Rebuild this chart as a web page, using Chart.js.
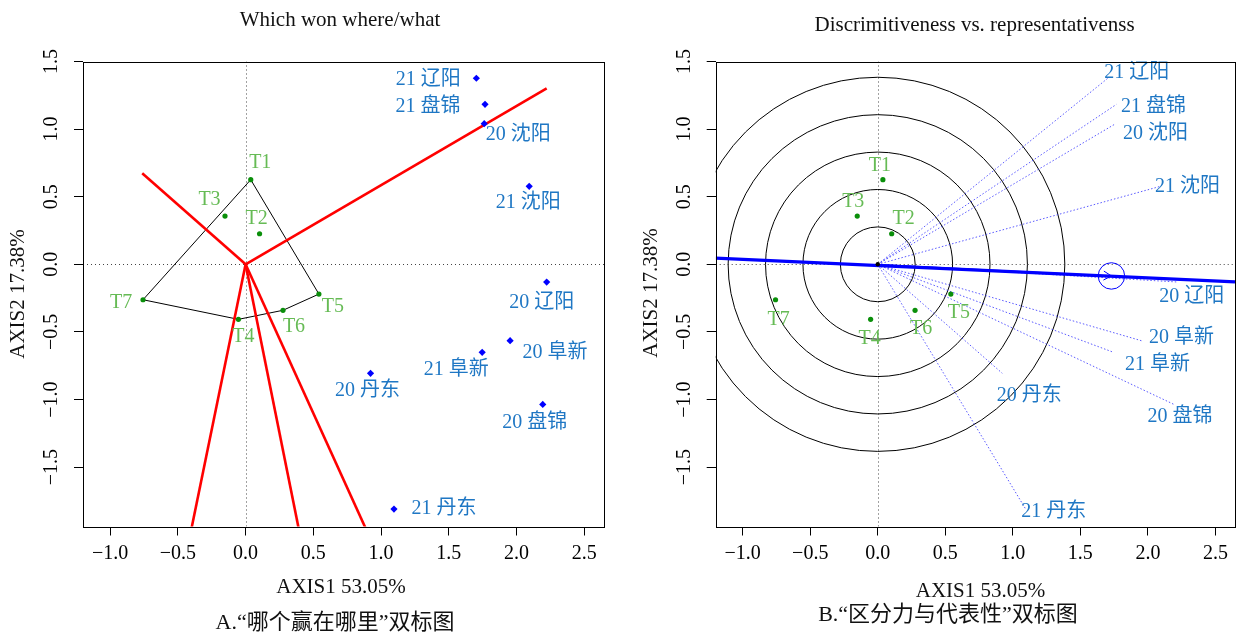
<!DOCTYPE html>
<html>
<head>
<meta charset="utf-8">
<script src="https://cdn.jsdelivr.net/npm/chart.js@4.4.0/dist/chart.umd.min.js"></script>
<style>
  body { margin: 0; background: #fff; width: 1240px; height: 635px; overflow: hidden; position: relative; }
  canvas { position: absolute; top: 0; }
  #chartA { left: 0; }
  #chartB { left: 620px; }
</style>
</head>
<body>
<canvas id="chartA" width="620" height="635"></canvas>
<canvas id="chartB" width="620" height="635"></canvas>
<script>
// Genotypes (green) and environments (blue), biplot scores
const genoNames = ['T1', 'T2', 'T3', 'T4', 'T5', 'T6', 'T7'];
const genoX = [0.038, 0.103, -0.152, -0.053, 0.541, 0.276, -0.757];
const genoY = [0.626, 0.226, 0.357, -0.407, -0.220, -0.340, -0.262];

const envNames = ['21 辽阳', '21 盘锦', '20 沈阳', '21 沈阳', '20 辽阳', '20 阜新', '21 阜新', '20 丹东', '20 盘锦', '21 丹东'];
const envX = [1.703, 1.767, 1.761, 2.093, 2.222, 1.952, 1.746, 0.922, 2.193, 1.095];
const envY = [1.376, 1.183, 1.040, 0.577, -0.131, -0.565, -0.651, -0.806, -1.036, -1.810];

// polygon (T1 T5 T6 T4 T7 T1) and the rays perpendicular to its sides
const hullOrder = [0, 4, 5, 3, 6, 0];
const rayEndX = [2.222, -0.763, -0.415, 0.407, 0.921];
const rayEndY = [1.302, 0.673, -2.03, -2.03, -2.03];

// discrimitiveness circles and average environment axis
const circleRadii = [0.277, 0.554, 0.831, 1.108, 1.385];
const aeaX = 1.73, aeaY = -0.086, aeaR = 0.098;
const aeaLineX = [-1.2, 2.645];
const aeaLineY = [0.046, -0.13];

const xTicks = [-1, -0.5, 0, 0.5, 1, 1.5, 2, 2.5];
const yTicks = [-1.5, -1, -0.5, 0, 0.5, 1, 1.5];
const xMin = -1.2, xMax = 2.645, yMin = -1.939, yMax = 1.5;

const serif = '"Liberation Serif", "Noto Sans CJK SC", serif';
const green = '#0a8f0a', greenText = '#66bb55', blueText = '#1f77c4';

function fmt(v) {
    return (v < 0 ? '\u2212' : '') + Math.abs(v).toFixed(1);
}

function drawText(ctx, s, x, y, size, color, rot) {
    ctx.save();
    ctx.translate(x, y);
    if (rot) ctx.rotate(rot);
    ctx.font = size + 'px ' + serif;
    ctx.fillStyle = color;
    ctx.textAlign = 'center';
    ctx.textBaseline = 'middle';
    ctx.fillText(s, 0, 0);
    ctx.restore();
}

// Draws the parts R's biplot adds around the points: dotted zero lines, circles, arrow, labels, frame, texts
const panelPlugin = {
    id: 'panel',
    beforeDatasetsDraw(chart, args, o) {
        const { ctx, chartArea: a, scales: { x, y } } = chart;
        ctx.save();
        ctx.beginPath();
        ctx.rect(a.left, a.top, a.right - a.left, a.bottom - a.top);
        ctx.clip();
        const px0 = Math.round(x.getPixelForValue(0)) + 0.5;
        const py0 = Math.round(y.getPixelForValue(0)) + 0.5;
        ctx.strokeStyle = '#444';
        ctx.lineWidth = 1;
        ctx.setLineDash([1, 3]);
        ctx.beginPath();
        ctx.moveTo(px0, a.top); ctx.lineTo(px0, a.bottom);
        ctx.moveTo(a.left, py0); ctx.lineTo(a.right, py0);
        ctx.stroke();
        if (o.circles) {
            ctx.setLineDash([]);
            ctx.strokeStyle = '#000';
            const cx = x.getPixelForValue(0), cy = y.getPixelForValue(0);
            circleRadii.forEach(r => {
                ctx.beginPath();
                ctx.arc(cx, cy, x.getPixelForValue(r) - cx, 0, Math.PI * 2);
                ctx.stroke();
            });
        }
        ctx.restore();
    },
    afterDatasetsDraw(chart, args, o) {
        const { ctx, chartArea: a, scales: { x, y } } = chart;
        if (o.arrow) {
            const ox = x.getPixelForValue(0), oy = y.getPixelForValue(0);
            const tx = x.getPixelForValue(aeaX), ty = y.getPixelForValue(aeaY);
            const ang = Math.atan2(ty - oy, tx - ox);
            ctx.save();
            ctx.strokeStyle = '#0000ff';
            ctx.lineWidth = 1;
            ctx.beginPath();
            [-1, 1].forEach(s => {
                ctx.moveTo(tx, ty);
                ctx.lineTo(tx - 9 * Math.cos(ang + s * Math.PI / 6), ty - 9 * Math.sin(ang + s * Math.PI / 6));
            });
            ctx.stroke();
            ctx.beginPath();
            ctx.arc(tx, ty, x.getPixelForValue(aeaR) - ox, 0, Math.PI * 2);
            ctx.stroke();
            ctx.restore();
        }

        // point labels
        envNames.forEach((n, i) => {
            drawText(ctx, n, x.getPixelForValue(envX[i]) + o.envOff[i][0],
                y.getPixelForValue(envY[i]) + o.envOff[i][1], 20, blueText);
        });
        genoNames.forEach((n, i) => {
            drawText(ctx, n, x.getPixelForValue(genoX[i]) + o.genoOff[i][0],
                y.getPixelForValue(genoY[i]) + o.genoOff[i][1], 20, greenText);
        });

        // frame
        ctx.save();
        ctx.strokeStyle = '#000';
        ctx.lineWidth = 1;
        ctx.strokeRect(Math.round(a.left) + 0.5, Math.round(a.top) + 0.5,
            Math.round(a.right - a.left), Math.round(a.bottom - a.top));
        ctx.restore();

        // rotated y tick labels
        yTicks.forEach(v => drawText(ctx, fmt(v), a.left - 31, y.getPixelForValue(v), 20, '#000', -Math.PI / 2));

        // titles
        drawText(ctx, o.title, o.titlePos[0], o.titlePos[1], 21, '#111');
        drawText(ctx, 'AXIS1 53.05%', o.xTitlePos[0], o.xTitlePos[1], 21, '#111');
        drawText(ctx, 'AXIS2 17.38%', o.yTitlePos[0], o.yTitlePos[1], 21, '#111', -Math.PI / 2);
        drawText(ctx, o.caption, o.captionPos[0], o.captionPos[1], 22, '#111');
    }
};

function makeChart(id, datasets, panel, boxLeft, boxRight) {
    return new Chart(document.getElementById(id), {
        type: 'scatter',
        data: { datasets: datasets },
        options: {
            responsive: false,
            animation: false,
            events: [],
            layout: { padding: { left: 0, top: 61.5, right: 620 - boxRight, bottom: 0 } },
            plugins: {
                legend: { display: false },
                tooltip: { enabled: false },
                panel: panel
            },
            scales: {
                x: {
                    type: 'linear', min: xMin, max: xMax,
                    afterBuildTicks: s => { s.ticks = xTicks.map(v => ({ value: v })); },
                    afterFit: s => { s.height = 635 - 526.5; },
                    grid: { drawOnChartArea: false, tickLength: 9, color: '#000', lineWidth: 1 },
                    border: { display: false },
                    ticks: {
                        autoSkip: false, maxRotation: 0, minRotation: 0, padding: 6,
                        color: '#000', font: { family: serif, size: 20 },
                        callback: v => fmt(v)
                    }
                },
                y: {
                    type: 'linear', min: yMin, max: yMax,
                    afterBuildTicks: s => { s.ticks = yTicks.map(v => ({ value: v })); },
                    afterFit: s => { s.width = boxLeft; },
                    grid: { drawOnChartArea: false, tickLength: 9, color: '#000', lineWidth: 1 },
                    border: { display: false },
                    ticks: { display: false }
                }
            }
        },
        plugins: [panelPlugin]
    });
}

const genoPoints = genoX.map((v, i) => ({ x: v, y: genoY[i] }));
const envPoints = envX.map((v, i) => ({ x: v, y: envY[i] }));

// A: which won where/what
const datasetsA = [
    { data: genoPoints, pointRadius: 2.6, pointBackgroundColor: green, pointBorderWidth: 0, order: 1 },
    { data: envPoints, pointStyle: 'rectRot', pointRadius: 3.6, pointBackgroundColor: '#0000ff', pointBorderWidth: 0, order: 1 },
    { data: hullOrder.map(i => ({ x: genoX[i], y: genoY[i] })), showLine: true, pointRadius: 0,
      borderColor: '#000', borderWidth: 1, order: 3 }
].concat(rayEndX.map((ex, i) => ({
    data: [{ x: 0, y: 0 }, { x: ex, y: rayEndY[i] }], showLine: true, pointRadius: 0,
    borderColor: '#ff0000', borderWidth: 2.6, clip: 0, order: 2
})));

makeChart('chartA', datasetsA, {
    title: 'Which won where/what', titlePos: [340, 20],
    xTitlePos: [341, 587], yTitlePos: [18, 294],
    caption: 'A.\u201c哪个赢在哪里\u201d双标图', captionPos: [335, 623],
    envOff: [[-48, 1], [-57, 2], [34, 11], [-1, 16], [-5, 21], [45, 12], [-26, 17], [-3, 17], [-8, 18], [50, 0]],
    genoOff: [[9.5, -17], [-3, -15], [-15.5, -16], [5, 17], [14, 13], [11, 16], [-22, 3]],
    circles: false, arrow: false
}, 83, 604);

// B: discrimitiveness vs. representativeness
const datasetsB = [
    { data: genoPoints, pointRadius: 2.6, pointBackgroundColor: green, pointBorderWidth: 0, order: 1 },
    { data: [{ x: 0, y: 0 }], pointRadius: 2.2, pointBackgroundColor: '#000', pointBorderWidth: 0, order: 1 },
    { data: [{ x: 0, y: 0 }, { x: aeaX, y: aeaY }], showLine: true, pointRadius: 0,
      borderColor: '#0000ff', borderWidth: 1, order: 2 },
    { data: aeaLineX.map((v, i) => ({ x: v, y: aeaLineY[i] })), showLine: true, pointRadius: 0,
      borderColor: '#0000ff', borderWidth: 3.4, clip: 0, order: 2 }
].concat(envX.map((ex, i) => ({
    data: [{ x: 0, y: 0 }, { x: ex, y: envY[i] }], showLine: true, pointRadius: 0,
    borderColor: 'rgba(50,50,255,0.8)', borderWidth: 1, borderDash: [1.5, 2], order: 3
})));

makeChart('chartB', datasetsB, {
    title: 'Discrimitiveness vs. representativenss', titlePos: [354.6, 25.7],
    xTitlePos: [360.5, 591.7], yTitlePos: [31, 293],
    caption: 'B.\u201c区分力与代表性\u201d双标图', captionPos: [328, 615],
    envOff: [[29, -6], [37, 2], [40, 10], [27, 0], [14, 15], [40, -3], [44, 12], [27, 22], [6, 12], [28, 3]],
    genoOff: [[-3, -14], [12, -15], [-4, -14], [-1, 19], [8, 19], [6, 18], [3, 20]],
    circles: true, arrow: true
}, 95.7, 615);
</script>
</body>
</html>
